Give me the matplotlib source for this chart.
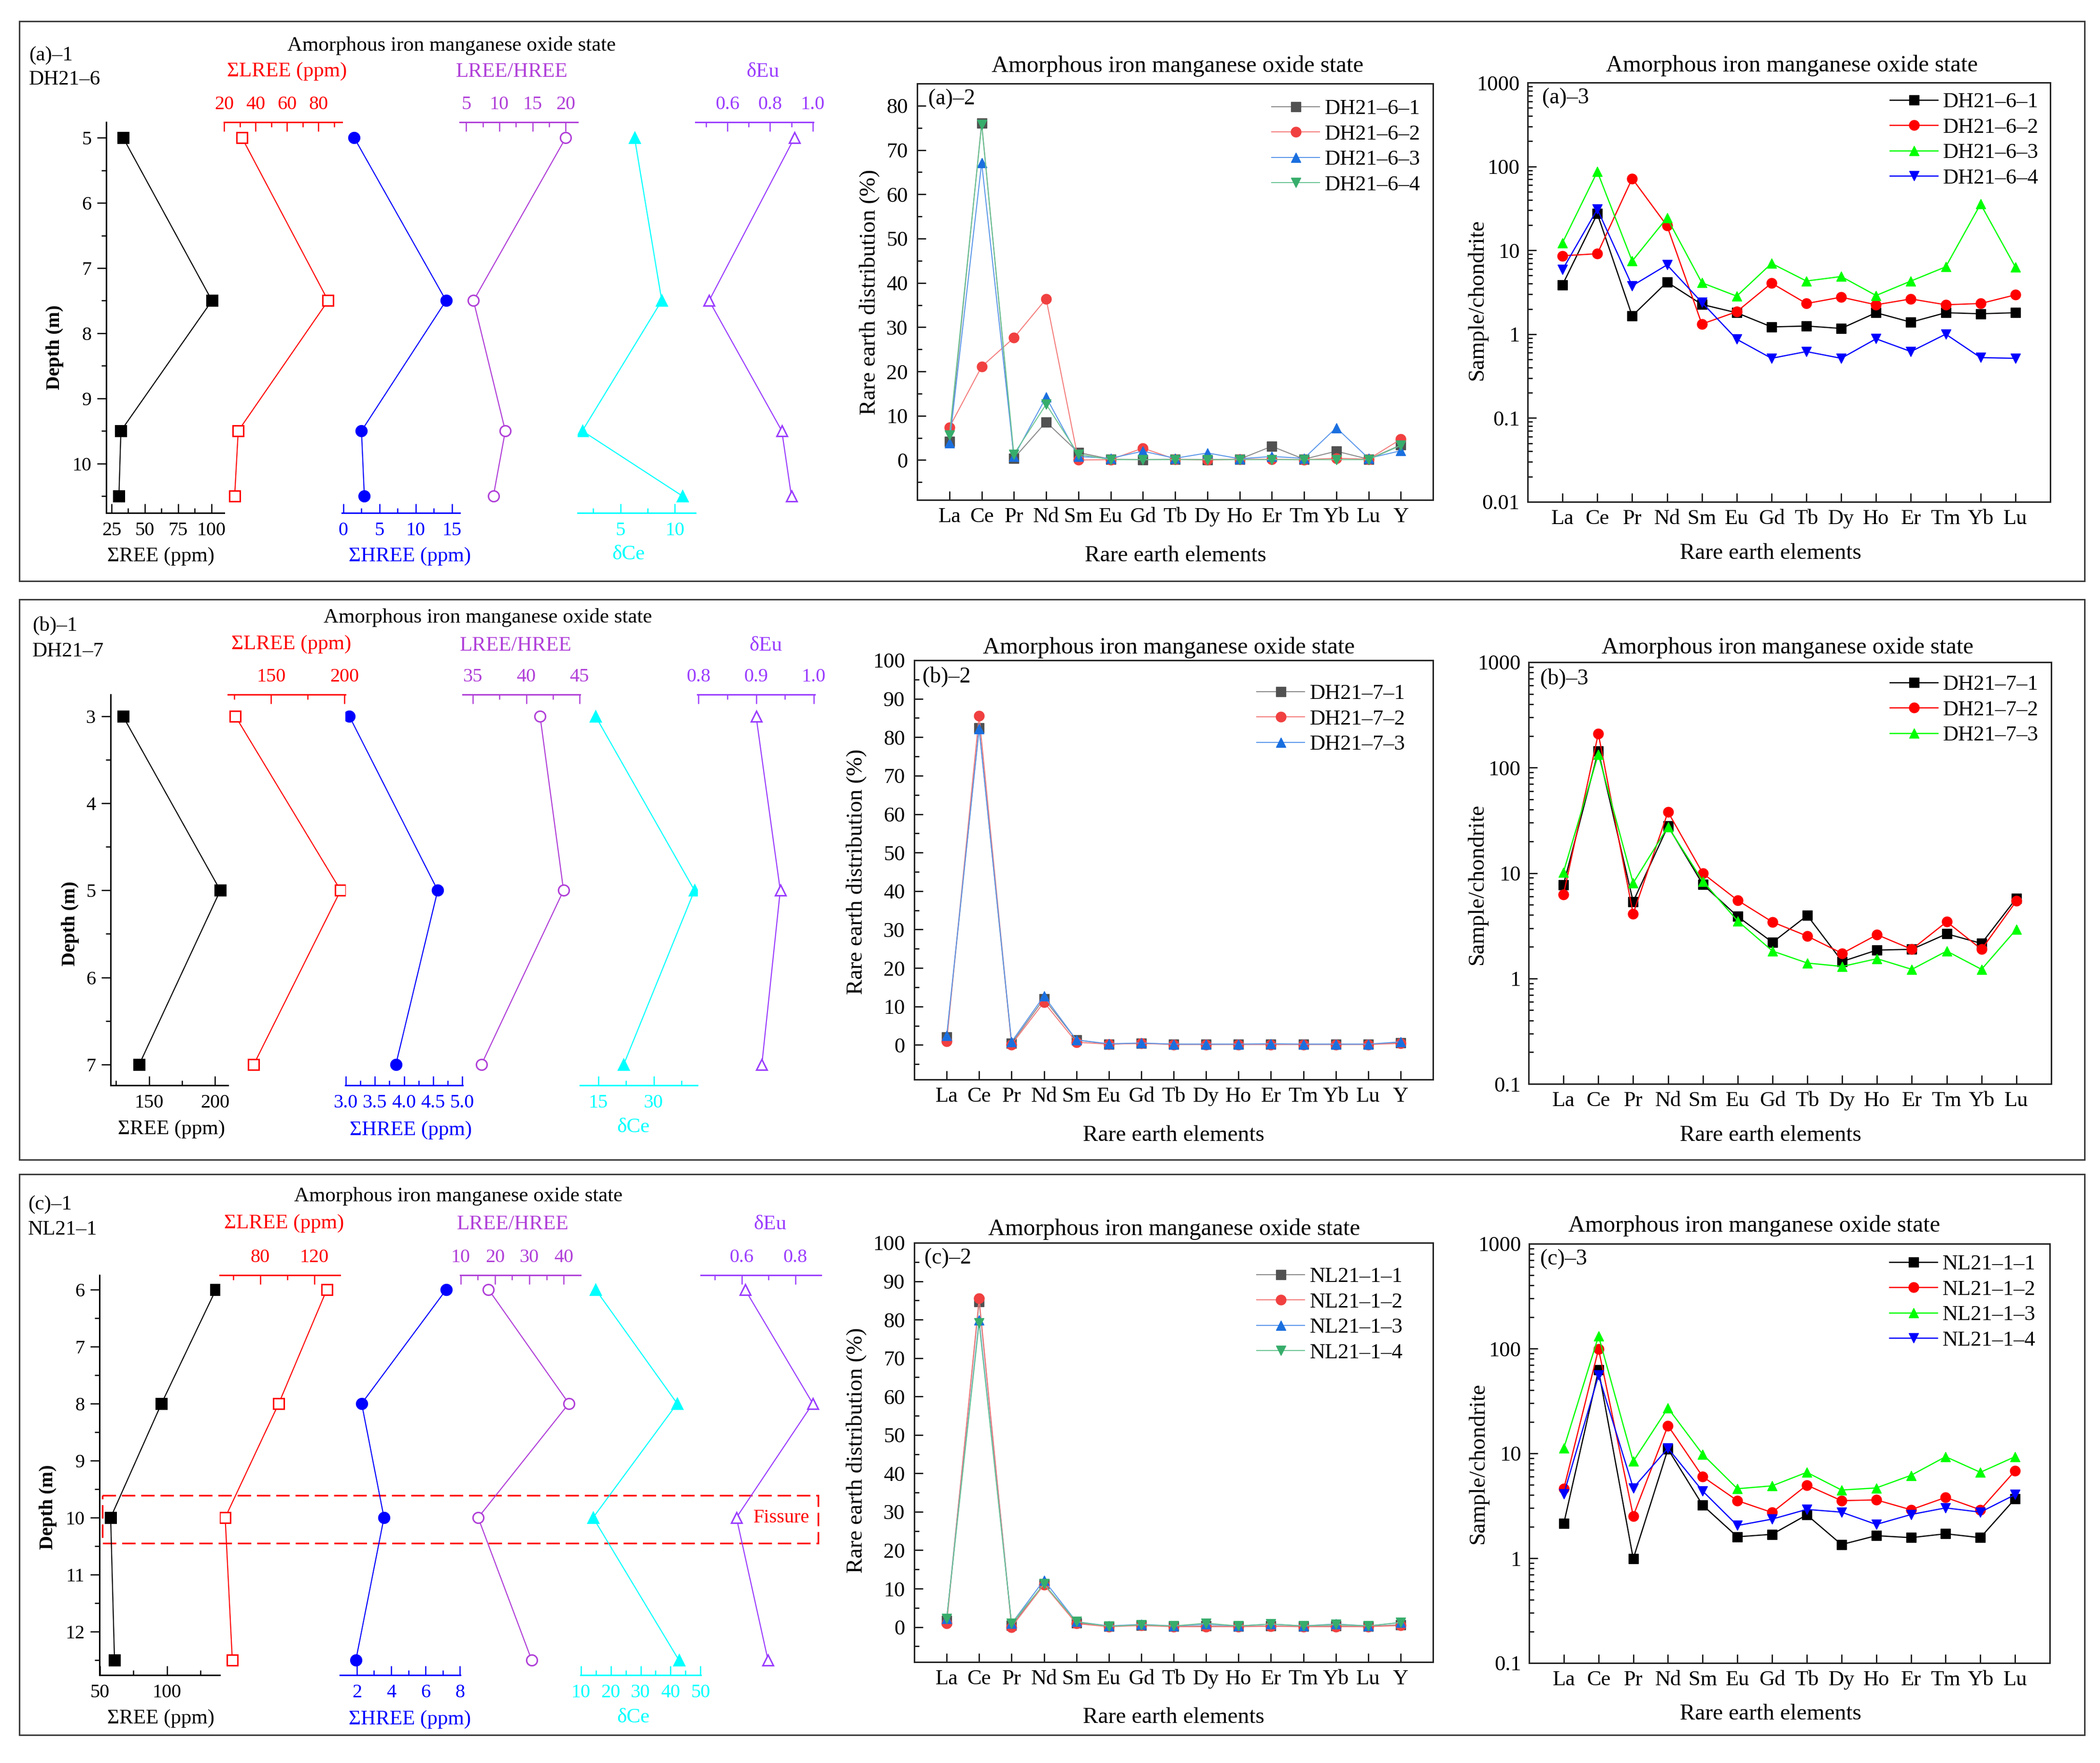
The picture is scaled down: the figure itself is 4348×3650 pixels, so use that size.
import numpy as np
import matplotlib
matplotlib.use("Agg")
import matplotlib.pyplot as plt
from matplotlib.ticker import MultipleLocator, FormatStrFormatter, LogLocator, NullFormatter, FuncFormatter
from matplotlib.patches import Rectangle
from matplotlib.transforms import blended_transform_factory

plt.rcParams['font.family'] = ['Liberation Serif', 'DejaVu Serif']
plt.rcParams['axes.unicode_minus'] = False

# ---------------- data ----------------
# depth profiles (Amorphous iron manganese oxide state)
dh6_depth = [5, 7.5, 9.5, 10.5]
dh6_sree = [33.7, 100.4, 32.0, 30.5]
dh6_slree = [31.4, 86.2, 29.0, 26.7]
dh6_shree = [1.5, 14.2, 2.5, 2.9]
dh6_ratio = [20.0, 6.1, 10.9, 9.1]
dh6_dce = [6.3, 8.8, 1.5, 10.7]
dh6_deu = [0.914, 0.514, 0.855, 0.90]

dh7_depth = [3, 5, 7]
dh7_sree = [130.3, 204.0, 142.6]
dh7_slree = [125.7, 197.4, 138.2]
dh7_shree = [3.06, 4.58, 3.86]
dh7_ratio = [41.3, 43.5, 35.8]
dh7_dce = [14.3, 41.0, 21.9]
dh7_deu = [0.90, 0.942, 0.91]

nl1_depth = [6, 8, 10, 12.5]
nl1_sree = [136.6, 96.0, 58.1, 61.0]
nl1_slree = [129.3, 93.7, 54.1, 59.4]
nl1_shree = [7.21, 2.28, 3.58, 1.94]
nl1_ratio = [18.1, 41.5, 15.1, 30.7]
nl1_dce = [14.9, 42.2, 14.1, 42.8]
nl1_deu = [0.612, 0.865, 0.58, 0.698]
fissure_depth = [9.61, 10.45]

# rare earth distribution (%) and chondrite-normalised patterns
dist_elements = ['La', 'Ce', 'Pr', 'Nd', 'Sm', 'Eu', 'Gd', 'Tb', 'Dy', 'Ho', 'Er', 'Tm', 'Yb', 'Lu', 'Y']
chon_elements = dist_elements[:14]

dh6_names = ['DH21–6–1', 'DH21–6–2', 'DH21–6–3', 'DH21–6–4']
dh6_dist_1 = [4.2, 76.1, 0.4, 8.6, 1.7, 0.2, 0.1, 0.2, 0.1, 0.2, 3.1, 0.2, 2.0, 0.2, 3.4]
dh6_dist_2 = [7.4, 21.1, 27.6, 36.4, 0.0, 0.1, 2.7, 0.2, 0.0, 0.2, 0.2, 0.1, 0.4, 0.2, 4.7]
dh6_dist_3 = [3.9, 67.1, 0.8, 14.2, 0.8, 0.4, 2.0, 0.4, 1.6, 0.3, 0.8, 0.4, 7.3, 0.4, 2.1]
dh6_dist_4 = [5.6, 75.7, 1.3, 12.6, 1.3, 0.1, 0.1, 0.1, 0.1, 0.1, 0.1, 0.1, 0.1, 0.1, 3.3]
dh6_chon_1 = [3.88, 27.3, 1.65, 4.18, 2.26, 1.80, 1.22, 1.25, 1.17, 1.80, 1.39, 1.80, 1.75, 1.80]
dh6_chon_2 = [8.6, 9.1, 71.8, 19.6, 1.32, 1.85, 4.06, 2.32, 2.76, 2.24, 2.63, 2.24, 2.32, 2.94]
dh6_chon_3 = [12.3, 86.7, 7.45, 24.4, 4.1, 2.84, 6.98, 4.3, 4.87, 2.89, 4.3, 6.35, 35.6, 6.3]
dh6_chon_4 = [5.88, 30.9, 3.77, 6.7, 2.39, 0.87, 0.515, 0.62, 0.515, 0.88, 0.62, 1.0, 0.525, 0.515]

dh7_names = ['DH21–7–1', 'DH21–7–2', 'DH21–7–3']
dh7_dist_1 = [2.0, 82.4, 0.4, 12.0, 1.3, 0.2, 0.4, 0.2, 0.2, 0.2, 0.2, 0.2, 0.2, 0.2, 0.6]
dh7_dist_2 = [0.9, 85.6, 0.1, 11.1, 0.7, 0.2, 0.4, 0.1, 0.1, 0.1, 0.1, 0.1, 0.1, 0.1, 0.4]
dh7_dist_3 = [2.4, 82.2, 0.8, 12.7, 1.3, 0.3, 0.5, 0.2, 0.2, 0.2, 0.3, 0.2, 0.2, 0.2, 0.8]
dh7_chon_1 = [7.74, 144, 5.35, 27.9, 7.8, 3.87, 2.2, 3.96, 1.45, 1.86, 1.89, 2.65, 2.15, 5.77]
dh7_chon_2 = [6.27, 210, 4.11, 38, 9.93, 5.51, 3.43, 2.52, 1.73, 2.6, 1.89, 3.45, 1.89, 5.43]
dh7_chon_3 = [10.2, 134, 8.04, 27.5, 8.35, 3.51, 1.82, 1.40, 1.30, 1.54, 1.22, 1.82, 1.22, 2.93]

nl1_names = ['NL21–1–1', 'NL21–1–2', 'NL21–1–3', 'NL21–1–4']
nl1_dist_1 = [1.7, 84.7, 0.4, 11.2, 1.1, 0.2, 0.5, 0.2, 0.3, 0.2, 0.3, 0.2, 0.3, 0.2, 0.6]
nl1_dist_2 = [0.9, 85.5, 0.0, 11.0, 0.9, 0.1, 0.4, 0.1, 0.1, 0.1, 0.2, 0.1, 0.1, 0.1, 0.4]
nl1_dist_3 = [2.2, 79.9, 0.9, 12.2, 1.4, 0.3, 0.7, 0.3, 0.8, 0.3, 0.8, 0.3, 0.8, 0.3, 1.2]
nl1_dist_4 = [2.2, 79.1, 0.9, 11.2, 1.4, 0.2, 0.6, 0.3, 1.0, 0.3, 0.8, 0.3, 0.7, 0.3, 1.2]
nl1_chon_1 = [2.15, 62.4, 0.99, 11.0, 3.2, 1.6, 1.69, 2.59, 1.35, 1.64, 1.57, 1.71, 1.57, 3.69]
nl1_chon_2 = [4.6, 98.9, 2.53, 18.4, 6.0, 3.54, 2.73, 4.98, 3.54, 3.6, 2.9, 3.8, 2.9, 6.82]
nl1_chon_3 = [11.2, 132, 8.4, 27.1, 9.8, 4.6, 4.9, 6.6, 4.47, 4.68, 6.17, 9.3, 6.6, 9.3]
nl1_chon_4 = [4.1, 55.5, 4.68, 11.2, 4.37, 2.05, 2.36, 2.92, 2.75, 2.1, 2.61, 3.02, 2.75, 4.04]

TITLE = 'Amorphous iron manganese oxide state'

# ---------------- figure helpers ----------------
W, H = 4348, 3650
fig = plt.figure(figsize=(W / 100, H / 100), dpi=100)


def box(l, t, r, b):
    return [l / W, 1 - b / H, (r - l) / W, (b - t) / H]


def ftext(x, y, s, **kw):
    kw.setdefault('ha', 'center')
    kw.setdefault('va', 'center')
    return fig.text(x / W, 1 - y / H, s, **kw)


# outer frames of the three rows
for t, b in [(44, 1203), (1241, 2401), (2431, 3592)]:
    fig.add_artist(Rectangle((40 / W, 1 - b / H), 4276 / W, (b - t) / H, transform=fig.transFigure,
                             fill=False, ec='#3a3a3a', lw=2.2))

PURPLE1 = '#B03FD8'
PURPLE2 = '#9A3CFF'
track_style = [
    ('black', 's', True, 'bottom'),
    ('#FF0000', 's', False, 'top'),
    ('#0000FF', 'o', True, 'bottom'),
    (PURPLE1, 'o', False, 'top'),
    ('#00FFFF', '^', True, 'bottom'),
    (PURPLE2, '^', False, 'top'),
]
track_names = ['ΣREE (ppm)', 'ΣLREE (ppm)', 'ΣHREE (ppm)', 'LREE/HREE', 'δCe', 'δEu']


def depth_panel(depth, tracks, lims, x0, w, top, bottom, ylim):
    axes = []
    for i, (vals, (col, mk, filled, side), (lo, hi, maj, mnr, fmt)) in enumerate(zip(tracks, track_style, lims)):
        ax = fig.add_axes(box(x0 + i * w, top, x0 + (i + 1) * w, bottom))
        ax.patch.set_alpha(0)
        ax.plot(vals, depth, color=col, lw=1.6, marker=mk, ms=16, mew=2.2,
                mfc=col if filled else 'white', mec=col)
        ax.set_xlim(lo, hi)
        ax.set_ylim(*ylim)
        for s in ax.spines.values():
            s.set_visible(False)
        ax.spines[side].set_visible(True)
        ax.spines[side].set_color(col)
        ax.spines[side].set_linewidth(2.2)
        ax.xaxis.set_ticks_position(side)
        ax.xaxis.set_major_locator(MultipleLocator(maj))
        ax.xaxis.set_minor_locator(MultipleLocator(mnr))
        ax.xaxis.set_major_formatter(FormatStrFormatter(fmt))
        ax.tick_params(axis='x', which='both', direction='in', colors=col, width=1.8, labelsize=29, pad=13)
        ax.tick_params(axis='x', which='major', length=14)
        ax.tick_params(axis='x', which='minor', length=7)
        if i == 0:
            ax.spines['left'].set_visible(True)
            ax.spines['left'].set_linewidth(2.2)
            ax.yaxis.set_major_locator(MultipleLocator(1))
            ax.yaxis.set_minor_locator(MultipleLocator(0.5))
            ax.yaxis.set_major_formatter(FormatStrFormatter('%g'))
            ax.tick_params(axis='y', which='both', direction='out', width=1.8, labelsize=29, pad=8)
            ax.tick_params(axis='y', which='major', length=14)
            ax.tick_params(axis='y', which='minor', length=7)
        else:
            ax.yaxis.set_visible(False)
        axes.append(ax)
    return axes


def name_labels(pos):
    for (x, y), name, (col, _, _, _) in zip(pos, track_names, track_style):
        ftext(x, y, name, color=col, fontsize=31)


# ---------------- row (a) ----------------
a_lims = [(21, 109.5, 25, 12.5, '%g'), (20, 95, 20, 10, '%g'), (-0.2, 16.1, 5, 2.5, '%g'),
          (4.04, 21.8, 5, 2.5, '%g'), (1.07, 11.9, 5, 2.5, '%g'), (0.45, 1.003, 0.2, 0.1, '%.1f')]
depth_panel(dh6_depth, [dh6_sree, dh6_slree, dh6_shree, dh6_ratio, dh6_dce, dh6_deu],
            a_lims, 220, 244, 253, 1062, (10.76, 4.76))
ftext(935, 94, TITLE, fontsize=31)
ftext(60, 115, '(a)–1', ha='left', fontsize=31)
ftext(60, 165, 'DH21–6', ha='left', fontsize=31)
ftext(114, 719, 'Depth (m)', rotation=90, fontsize=29, fontweight='bold')
name_labels([(333, 1152), (594, 148), (849, 1152), (1060, 149), (1301, 1148), (1579, 149)])

# ---------------- row (b) ----------------
b_lims = [(120.9, 209.8, 50, 25, '%g'), (120.6, 200.6, 50, 25, '%g'), (2.99, 5.01, 0.5, 0.25, '%.1f'),
          (34.04, 45.05, 5, 2.5, '%g'), (10.1, 41.8, 15, 7.5, '%g'), (0.798, 1.002, 0.1, 0.05, '%.1f')]
depth_panel(dh7_depth, [dh7_sree, dh7_slree, dh7_shree, dh7_ratio, dh7_dce, dh7_deu],
            b_lims, 229, 243, 1438, 2247, (7.24, 2.75))
ftext(1010, 1279, TITLE, fontsize=31)
ftext(67, 1295, '(b)–1', ha='left', fontsize=31)
ftext(67, 1349, 'DH21–7', ha='left', fontsize=31)
ftext(145, 1912, 'Depth (m)', rotation=90, fontsize=29, fontweight='bold')
name_labels([(355, 2338), (603, 1334), (850, 2340), (1068, 1337), (1311, 2334), (1585, 1337)])

# ---------------- row (c) ----------------
c_lims = [(49.8, 139.4, 50, 25, '%g'), (50.1, 139, 40, 20, '%g'), (1.02, 8.02, 2, 1, '%g'),
          (9.9, 44.9, 10, 5, '%g'), (9.9, 50.1, 10, 5, '%g'), (0.447, 0.896, 0.2, 0.1, '%.1f')]
c_axes = depth_panel(nl1_depth, [nl1_sree, nl1_slree, nl1_shree, nl1_ratio, nl1_dce, nl1_deu],
                     c_lims, 206, 249, 2640, 3468, (12.76, 5.75))
ftext(949, 2477, TITLE, fontsize=31)
ftext(58, 2494, '(c)–1', ha='left', fontsize=31)
ftext(58, 2546, 'NL21–1', ha='left', fontsize=31)
ftext(100, 3120, 'Depth (m)', rotation=90, fontsize=29, fontweight='bold')
name_labels([(333, 3558), (588, 2533), (848, 3560), (1062, 2535), (1311, 3556), (1594, 2535)])

# fissure zone box
ax0 = c_axes[0]
tr = blended_transform_factory(fig.transFigure, ax0.transData)
ax0.add_patch(Rectangle((212 / W, fissure_depth[0]), (1694 - 212) / W, fissure_depth[1] - fissure_depth[0],
                        transform=tr, fill=False, ec='#FF0000', lw=2.5, ls=(0, (8, 3.5)), clip_on=False))
ftext(1618, 3143, 'Fissure', color='#FF0000', fontsize=29)

# ---------------- REE panels ----------------
dist_colors = ['#515151', '#F14040', '#1A6FDF', '#37AD6B']
dist_lines = ['#8a8a8a', '#F47c7c', '#5b97EA', '#6cc594']
chon_colors = ['black', '#FF0000', '#00FF00', '#0000FF']
markers = ['s', 'o', '^', 'v']


def ree_panel(rect_px, elements, series, names, colors, lcolors, mks, log, ylim):
    ax = fig.add_axes(box(*rect_px))
    x = np.arange(len(elements))
    for vals, nm, c, lc, mk in zip(series, names, colors, lcolors, mks):
        ax.plot(x, vals, color=lc, lw=1.8 if log else 1.5, marker=mk, ms=15, mfc=c, mec=c, label=nm)
    ax.set_xlim(-1, len(elements))
    ax.set_xticks(x)
    ax.set_xticklabels(elements)
    if log:
        ax.set_yscale('log')
        ax.yaxis.set_major_locator(LogLocator(base=10, numticks=20))
        ax.yaxis.set_minor_locator(LogLocator(base=10, subs=np.arange(2, 10), numticks=20))
        ax.yaxis.set_minor_formatter(NullFormatter())
        ax.yaxis.set_major_formatter(FuncFormatter(lambda v, p: '%g' % v))
    else:
        ax.yaxis.set_major_locator(MultipleLocator(10))
        ax.yaxis.set_minor_locator(MultipleLocator(5))
    ax.set_ylim(*ylim)
    for s in ax.spines.values():
        s.set_linewidth(2.2)
        s.set_color('#222222')
    ax.tick_params(which='both', direction='in', width=1.8, labelsize=32)
    ax.tick_params(which='major', length=13)
    ax.tick_params(which='minor', length=7)
    ax.tick_params(axis='x', pad=11)
    ax.tick_params(axis='y', pad=12 if log else 14)
    return ax


def legend_at(ax, x_px, top_px):
    ax.legend(loc='upper left', bbox_to_anchor=(x_px / W, 1 - top_px / H), bbox_transform=fig.transFigure,
              frameon=False, fontsize=32, handlelength=2.23, handletextpad=0.25, labelspacing=0.28,
              borderpad=0, borderaxespad=0, numpoints=1)


def labels(title_xy, tag_xy, tag, ylab_xy, ylab, xlab_xy):
    ftext(*title_xy, TITLE, fontsize=35)
    ftext(*tag_xy, tag, ha='left', fontsize=33)
    ftext(*ylab_xy, ylab, rotation=90, fontsize=34)
    ftext(*xlab_xy, 'Rare earth elements', fontsize=34)


# (a)-2, (a)-3
ax = ree_panel((1899, 173, 2967, 1035), dist_elements, [dh6_dist_1, dh6_dist_2, dh6_dist_3, dh6_dist_4],
               dh6_names, dist_colors, dist_lines, markers, False, (-9, 85))
legend_at(ax, 2633, 205)
labels((2438, 137), (1922, 205), '(a)–2', (1800, 605), 'Rare earth distribution (%)', (2434, 1151))
ax = ree_panel((3163, 171, 4245, 1039), chon_elements, [dh6_chon_1, dh6_chon_2, dh6_chon_3, dh6_chon_4],
               dh6_names, chon_colors, chon_colors, markers, True, (0.01, 1000))
legend_at(ax, 3913, 191)
labels((3710, 136), (3193, 203), '(a)–3', (3058, 620), 'Sample/chondrite', (3666, 1146))

# (b)-2, (b)-3
ax = ree_panel((1893, 1367, 2967, 2235), dist_elements, [dh7_dist_1, dh7_dist_2, dh7_dist_3],
               dh7_names, dist_colors[:3], dist_lines[:3], markers[:3], False, (-9, 100))
legend_at(ax, 2602, 1416)
labels((2420, 1341), (1910, 1401), '(b)–2', (1773, 1805), 'Rare earth distribution (%)', (2430, 2351))
ax = ree_panel((3165, 1371, 4247, 2244), chon_elements, [dh7_chon_1, dh7_chon_2, dh7_chon_3],
               dh7_names, chon_colors[:3], chon_colors[:3], markers[:3], True, (0.1, 1000))
legend_at(ax, 3913, 1397)
labels((3701, 1341), (3189, 1405), '(b)–3', (3058, 1830), 'Sample/chondrite', (3666, 2351))

# (c)-2, (c)-3
ax = ree_panel((1893, 2573, 2967, 3441), dist_elements, [nl1_dist_1, nl1_dist_2, nl1_dist_3, nl1_dist_4],
               nl1_names, dist_colors, dist_lines, markers, False, (-9.1, 100))
legend_at(ax, 2602, 2623)
labels((2431, 2545), (1914, 2605), '(c)–2', (1773, 3003), 'Rare earth distribution (%)', (2430, 3556))
ax = ree_panel((3166, 2575, 4244, 3443), chon_elements, [nl1_chon_1, nl1_chon_2, nl1_chon_3, nl1_chon_4],
               nl1_names, chon_colors, chon_colors, markers, True, (0.1, 1000))
legend_at(ax, 3912, 2597)
labels((3632, 2538), (3189, 2607), '(c)–3', (3060, 3029), 'Sample/chondrite', (3666, 3549))

fig.savefig('out.png', dpi=100, facecolor='white')
